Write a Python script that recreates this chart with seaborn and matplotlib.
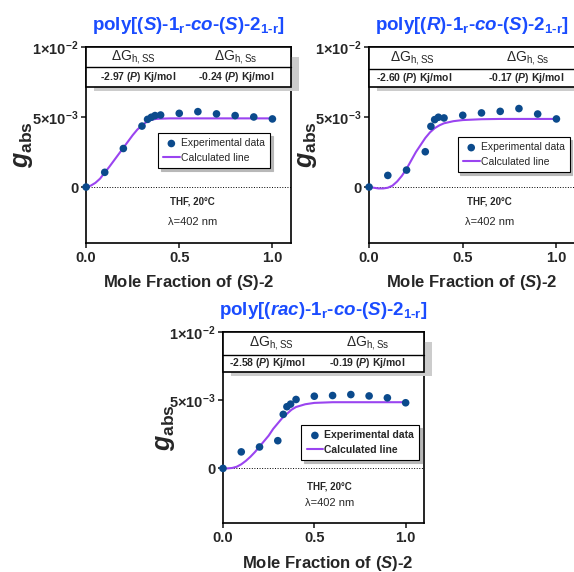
import numpy as np
import pandas as pd
import matplotlib
matplotlib.use("Agg")
import matplotlib.pyplot as plt
from matplotlib.patches import Rectangle
import seaborn as sns

# experimental points (same mole fractions for all three copolymers)
x_exp = [0.0, 0.1, 0.2, 0.3, 0.33, 0.35, 0.37, 0.4, 0.5, 0.6, 0.7, 0.8, 0.9, 1.0]
g_exp_S = [0.0, 0.00105, 0.00275, 0.00435, 0.00483, 0.00498, 0.0051, 0.00514,
           0.00526, 0.00538, 0.00522, 0.0051, 0.005, 0.00486]
g_exp_R = [0.0, 0.00083, 0.00121, 0.00252, 0.00433, 0.00481, 0.00498, 0.00493,
           0.00512, 0.00529, 0.0054, 0.0056, 0.00521, 0.00486]
g_exp_rac = [0.0, 0.00121, 0.00157, 0.00203, 0.00396, 0.00452, 0.00471, 0.00505,
             0.00529, 0.00534, 0.00541, 0.00531, 0.00517, 0.00481]

# calculated lines
x_calc = [0.0, 0.025, 0.05, 0.075, 0.1, 0.125, 0.15, 0.175, 0.2, 0.225, 0.25, 0.275,
          0.3, 0.325, 0.35, 0.375, 0.4, 0.45, 0.5, 0.6, 0.7, 0.8, 0.9, 1.0]
g_calc_S = [0.0, 0.0001, 0.0003, 0.0006, 0.00103, 0.00145, 0.0019, 0.00235, 0.0028,
            0.00325, 0.0037, 0.0041, 0.0044, 0.00465, 0.0048, 0.00486, 0.00488,
            0.0049, 0.0049, 0.0049, 0.0049, 0.0049, 0.0049, 0.0049]
g_calc_R = [0.0, -0.00005, -0.0001, -0.0001, -0.00005, 0.0001, 0.0004, 0.0008, 0.0013,
            0.0019, 0.0025, 0.003, 0.0035, 0.0039, 0.0042, 0.0044, 0.00455, 0.0047,
            0.00478, 0.00484, 0.00486, 0.00486, 0.00486, 0.00486]
g_calc_rac = [0.0, 0.0, 0.00003, 0.00012, 0.0003, 0.00055, 0.00085, 0.0012, 0.0016,
              0.002, 0.0024, 0.0029, 0.0033, 0.0037, 0.004, 0.0043, 0.0045, 0.0047,
              0.0048, 0.00485, 0.00485, 0.00485, 0.00485, 0.00485]

titles = ["poly[($S$)-1$_\\mathbf{r}$-$co$-($S$)-2$_\\mathbf{1\u2010r}$]",
          "poly[($R$)-1$_\\mathbf{r}$-$co$-($S$)-2$_\\mathbf{1\u2010r}$]",
          "poly[($rac$)-1$_\\mathbf{r}$-$co$-($S$)-2$_\\mathbf{1\u2010r}$]"]
dg_SS = ["-2.97", "-2.60", "-2.58"]
dg_Ss = ["-0.24", "-0.17", "-0.19"]
ytick_vals = [0, 0.005, 0.01]
ytick_labels = ["0", r"5×10$^\mathbf{-3}$", r"1×10$^\mathbf{-2}$"]
xtick_vals = [0, 0.5, 1.0]
xtick_labels = ["0.0", "0.5", "1.0"]

sns.set_style("ticks")
plt.rcParams['font.family'] = ['Liberation Sans', 'DejaVu Sans']
plt.rcParams['mathtext.fontset'] = 'custom'
plt.rcParams['mathtext.rm'] = 'Liberation Sans'
plt.rcParams['mathtext.it'] = 'Liberation Sans:italic:bold'
plt.rcParams['mathtext.bf'] = 'Liberation Sans:bold'

DOT = "#0b4a8c"
LINE = "#9a44f0"
BLUE = "#1a4cff"

fig = plt.figure(figsize=(5.74, 5.72), dpi=100)

# per-panel layout: axes rect, header rows, legend anchor, text spots
panels = [
    dict(rect=[0.150, 0.575, 0.357, 0.343], exp=g_exp_S, calc=g_calc_S,
         sep=0.898, hb=0.796, hx=(0.23, 0.73), vx=(0.255, 0.73),
         leg=(0.35, 0.561), legbold=False, tx=0.52, ty=(0.21, 0.107),
         ylab=-0.25, xlab=(0.5, -0.15)),
    dict(rect=[0.643, 0.575, 0.359, 0.343], exp=g_exp_R, calc=g_calc_R,
         sep=0.888, hb=0.796, hx=(0.21, 0.77), vx=(0.22, 0.76),
         leg=(0.43, 0.54), legbold=False, tx=0.585, ty=(0.21, 0.107),
         ylab=-0.245, xlab=(0.5, -0.15)),
    dict(rect=[0.3885, 0.0857, 0.350, 0.334], exp=g_exp_rac, calc=g_calc_rac,
         sep=0.88, hb=0.79, hx=(0.24, 0.72), vx=(0.22, 0.72),
         leg=(0.39, 0.513), legbold=True, tx=0.53, ty=(0.19, 0.105),
         ylab=-0.23, xlab=(0.52, -0.16)),
]

for i, p in enumerate(panels):
    ax = fig.add_axes(p["rect"])
    df_exp = pd.DataFrame({"x": x_exp, "g": p["exp"]})
    df_calc = pd.DataFrame({"x": x_calc, "g": p["calc"]})

    ax.axhline(0, color="black", ls=":", lw=0.7, zorder=1)
    sns.lineplot(data=df_calc, x="x", y="g", ax=ax, color=LINE, lw=1.5,
                 label="Calculated line", zorder=2)
    sns.scatterplot(data=df_exp, x="x", y="g", ax=ax, color=DOT, s=30,
                    edgecolor="none", label="Experimental data", zorder=3,
                    clip_on=False)

    ax.set_xlim(0, 1.1)
    ax.set_ylim(-0.004, 0.01)
    ax.set_xticks(xtick_vals)
    ax.set_xticklabels(xtick_labels, fontsize=10.5, fontweight="bold")
    ax.set_yticks(ytick_vals)
    ax.set_yticklabels(ytick_labels, fontsize=10.5, fontweight="bold")
    ax.tick_params(direction="out", length=3.5, width=1.2, pad=2)
    for s in ax.spines.values():
        s.set_linewidth(1.2)
        s.set_color("black")

    ax.set_xlabel(r"Mole Fraction of ($S$)-2", fontsize=12, fontweight="bold")
    ax.set_ylabel(r"$g_\mathbf{abs}$", fontsize=18)
    ax.xaxis.set_label_coords(*p["xlab"])
    ax.yaxis.set_label_coords(p["ylab"], 0.5)
    ax.set_title(titles[i], color=BLUE, fontsize=13.5, fontweight="bold", pad=12)

    # header table with shadow
    hb = p["hb"]
    ax.add_patch(Rectangle((0.04, hb - 0.022), 1.0, 1 - hb - 0.03,
                           transform=ax.transAxes, facecolor="0.8",
                           edgecolor="none", clip_on=False, zorder=4))
    ax.add_patch(Rectangle((0, hb), 1, 1 - hb, transform=ax.transAxes,
                           facecolor="white", edgecolor="black", lw=1.2,
                           clip_on=False, zorder=5))
    ax.plot([0, 1], [p["sep"], p["sep"]], transform=ax.transAxes,
            color="black", lw=1.0, clip_on=False, zorder=6)
    yr1 = (1 + p["sep"]) / 2
    yr2 = (p["sep"] + hb) / 2
    ax.text(p["hx"][0], yr1, r"ΔG$_\mathrm{h,SS}$", transform=ax.transAxes,
            ha="center", va="center", fontsize=10, zorder=7)
    ax.text(p["hx"][1], yr1, r"ΔG$_\mathrm{h,Ss}$", transform=ax.transAxes,
            ha="center", va="center", fontsize=10, zorder=7)
    ax.text(p["vx"][0], yr2, dg_SS[i] + r" ($P$) Kj/mol", transform=ax.transAxes,
            ha="center", va="center", fontsize=7.5, fontweight="bold", zorder=7)
    ax.text(p["vx"][1], yr2, dg_Ss[i] + r" ($P$) Kj/mol", transform=ax.transAxes,
            ha="center", va="center", fontsize=7.5, fontweight="bold", zorder=7)

    ax.text(p["tx"], p["ty"][0], "THF, 20°C", transform=ax.transAxes,
            ha="center", va="center", fontsize=7, fontweight="bold")
    ax.text(p["tx"], p["ty"][1], "λ=402 nm", transform=ax.transAxes,
            ha="center", va="center", fontsize=8)

    h, l = ax.get_legend_handles_labels()
    leg = ax.legend([h[1], h[0]], [l[1], l[0]], loc="upper left",
                    bbox_to_anchor=p["leg"], borderaxespad=0, fancybox=False,
                    frameon=True, edgecolor="black", framealpha=1,
                    shadow={"color": "0.72", "alpha": 1},
                    handlelength=1.6, handletextpad=0.1,
                    borderpad=0.5, labelspacing=0.45, scatterpoints=1,
                    prop={"size": 7.5, "weight": "bold" if p["legbold"] else "normal"})
    leg.get_frame().set_linewidth(0.8)
    leg.set_zorder(8)

fig.savefig("out.png", dpi=100)
